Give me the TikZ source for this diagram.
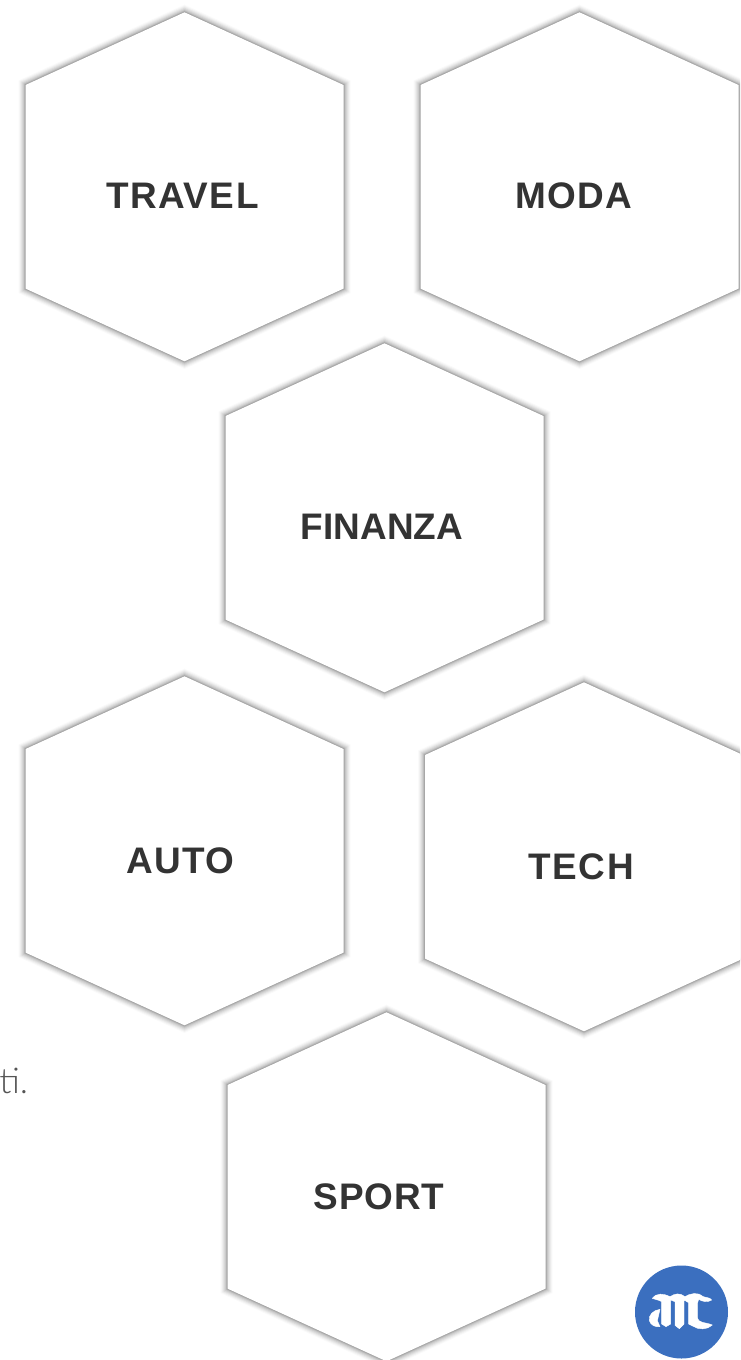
\documentclass[tikz,border=0pt]{standalone}
\usepackage{fontspec}
\setmainfont{Liberation Sans}
\newfontfamily\thinfont[UprightFont={* Light}]{Lato}
\definecolor{labelink}{HTML}{333333}
\definecolor{logoblue}{HTML}{3B6FBF}
\definecolor{bodygrey}{HTML}{555555}
\tikzset{
  hexlabel/.style={text=labelink,font=\fontsize{27.7pt}{30pt}\selectfont\bfseries,inner sep=0pt,anchor=center},
  logostroke/.style={fill=white,draw=white,line width=0.3pt,line join=round}
}
\newcommand{\hexpath}[2]{(#1,#2) -- ++(159,72.7) -- ++(0,203.6) -- ++(-159,72.7) -- ++(-159,-72.7) -- ++(0,-203.6) -- cycle}
\newcommand{\hexcell}[2]{%
  \foreach \w/\o in {14/0.02,12/0.03,10/0.04,8/0.05,6/0.06,4/0.07,2.5/0.08,1.2/0.08}{%
    \draw[black,opacity=\o,line width=\w*0.75pt,line join=miter] \hexpath{#1}{#2};}
  \fill[white] \hexpath{#1}{#2};
}
\begin{document}
\begin{tikzpicture}[x=0.75pt,y=-0.75pt]
\useasboundingbox (0,0) rectangle (740,1360);
\clip (0,0) rectangle (740,1360);
\fill[white] (0,0) rectangle (740,1360);
\node[text=bodygrey,font=\thinfont\fontsize{26.5pt}{28pt}\selectfont,anchor=base west,inner sep=0pt] (tail) at (-1,1093) {ti.};
\hexcell{184.5}{12.3}
\hexcell{579.5}{12.3}
\hexcell{384.5}{343.3}
\hexcell{184.5}{676.3}
\hexcell{584}{682.3}
\hexcell{386.5}{1012.3}
\node[hexlabel] (travel) at (182.5,196) {\addfontfeature{LetterSpace=4}TRAVEL};
\node[hexlabel] (moda) at (574,196) {\addfontfeature{LetterSpace=4}MODA};
\node[hexlabel] (finanza) at (382,527) {FINANZA};
\node[hexlabel] (auto) at (180.5,861) {\addfontfeature{LetterSpace=3}AUTO};
\node[hexlabel] (tech) at (581,867) {\addfontfeature{LetterSpace=4.5}TECH};
\node[hexlabel] (sport) at (379,1197) {\addfontfeature{LetterSpace=2.5}SPORT};
\fill[logoblue] (681.5,1312) circle[radius=46.5];
\begin{scope}[shift={(620,1250)},x=0.25pt,y=-0.25pt]
\fill[logostroke] (97,145) .. controls (110,128) and (130,130) .. (150,140) .. controls (165,130) and (180,128) .. (195,140) .. controls (210,130) and (235,125) .. (250,140) .. controls (258,145) and (268,140) .. (275,150) .. controls (262,158) and (248,155) .. (236,148) -- (232,160) -- (232,200) .. controls (234,222) and (255,215) .. (277,225) .. controls (262,240) and (235,240) .. (218,228) -- (206,222) -- (206,158) -- (192,150) -- (192,222) -- (178,236) -- (165,226) -- (165,155) -- (152,150) -- (152,222) -- (138,230) -- (125,222) -- (125,155) .. controls (115,148) and (105,150) .. (97,145) -- cycle;
\fill[logostroke] (120,178) .. controls (100,180) and (85,195) .. (88,212) .. controls (92,225) and (105,232) .. (120,230) -- (112,212) -- cycle;
\end{scope}
\end{tikzpicture}
\end{document}
